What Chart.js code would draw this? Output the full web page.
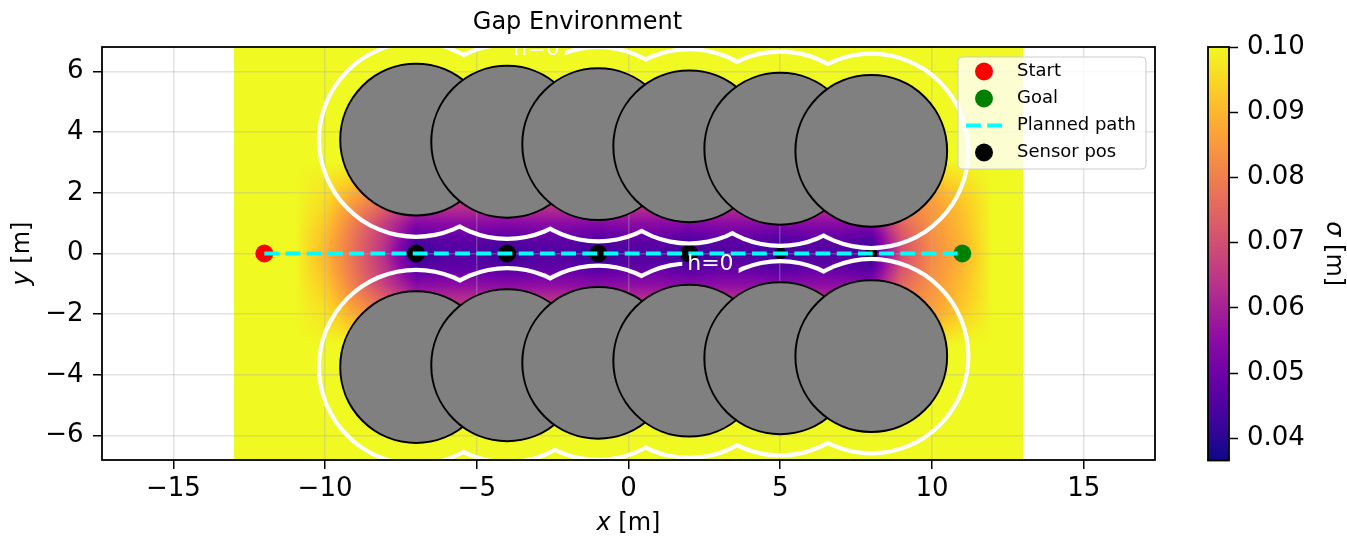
<!DOCTYPE html>
<html>
<head>
<meta charset="utf-8">
<title>Gap Environment</title>
<script src="https://cdn.jsdelivr.net/npm/chart.js@4.4.1/dist/chart.umd.min.js"></script>
<style>
  html, body { margin: 0; padding: 0; background: #fff; }
  #wrap { position: relative; width: 1347px; height: 538px; }
  #wrap canvas { position: absolute; left: 0; top: 0; }
</style>
</head>
<body>
<div id="wrap">
  <canvas id="main" width="1347" height="538"></canvas>
  <canvas id="cbar" width="1347" height="538"></canvas>
</div>
<script>
// --- data ---
const startPos = [-12, 0];
const goalPos = [11, 0];
const pathX = [-12, 11];
const pathY = [0, 0];
const sensorX = [-7, -4, -1, 2, 5, 8];
const sensorY = [0, 0, 0, 0, 0, 0];

// obstacles: top row then bottom row
const obstacleX = [-7, -4, -1, 2, 5, 8, -7, -4, -1, 2, 5, 8];
const obstacleY = [3.75, 3.68, 3.60, 3.53, 3.45, 3.38, -3.74, -3.68, -3.60, -3.53, -3.45, -3.38];
const obstacleR = 2.5;
const safetyMargin = 0.7;   // h = 0 level

// sigma field, sampled on a grid (columns = sigmaX, rows = sigmaY), outside |y|>3 it is 0.10
const sigmaX = [-13, -12, -11, -10, -9, -8, -7, -6, -5, -4, -3, -2, -1, 0, 1, 2, 3, 4, 5, 6, 7, 8, 9, 10, 11, 12, 13];
const sigmaY = [3, 2.5, 2, 1.5, 1, 0.5, 0, -0.5, -1, -1.5, -2, -2.5, -3];
const sigmaRow30 = [0.100,0.100,0.100,0.100,0.100,0.093,0.090,0.090,0.090,0.090,0.090,0.090,0.090,0.090,0.090,0.090,0.090,0.090,0.090,0.090,0.090,0.090,0.092,0.099,0.100,0.100,0.100];
const sigmaRow25 = [0.100,0.100,0.100,0.098,0.094,0.086,0.080,0.080,0.080,0.080,0.080,0.080,0.080,0.080,0.080,0.080,0.080,0.080,0.080,0.080,0.080,0.080,0.087,0.093,0.097,0.100,0.100];
const sigmaRow20 = [0.100,0.100,0.100,0.097,0.088,0.079,0.070,0.070,0.070,0.070,0.070,0.070,0.070,0.070,0.070,0.070,0.070,0.070,0.070,0.070,0.070,0.070,0.084,0.087,0.094,0.100,0.100];
const sigmaRow15 = [0.100,0.100,0.100,0.095,0.083,0.073,0.062,0.063,0.063,0.062,0.063,0.063,0.062,0.063,0.063,0.062,0.063,0.063,0.062,0.063,0.063,0.062,0.080,0.085,0.092,0.100,0.100];
const sigmaRow10 = [0.100,0.100,0.100,0.093,0.079,0.066,0.054,0.055,0.055,0.054,0.055,0.055,0.054,0.055,0.055,0.054,0.055,0.055,0.054,0.055,0.055,0.054,0.075,0.084,0.091,0.100,0.100];
const sigmaRow05 = [0.100,0.100,0.100,0.091,0.077,0.064,0.046,0.048,0.048,0.046,0.048,0.048,0.046,0.048,0.048,0.046,0.048,0.048,0.046,0.048,0.048,0.046,0.071,0.083,0.090,0.100,0.100];
const sigmaRow00 = [0.100,0.100,0.100,0.090,0.076,0.062,0.041,0.045,0.045,0.041,0.045,0.045,0.041,0.045,0.045,0.041,0.045,0.045,0.041,0.045,0.045,0.041,0.070,0.082,0.089,0.100,0.100];
const sigmaRows = [sigmaRow30, sigmaRow25, sigmaRow20, sigmaRow15, sigmaRow10, sigmaRow05, sigmaRow00,
                   sigmaRow05, sigmaRow10, sigmaRow15, sigmaRow20, sigmaRow25, sigmaRow30];
const fieldYRange = [-6.8, 6.8];
const sigmaMin = 0.0366;
const sigmaMax = 0.10;

const xTicks = [-15, -10, -5, 0, 5, 10, 15];
const yTicks = [-6, -4, -2, 0, 2, 4, 6];
const cbTicks = [0.04, 0.05, 0.06, 0.07, 0.08, 0.09, 0.10];

// --- helpers ---
const FONT = 'DejaVu Sans';
Chart.defaults.font.family = FONT;

const plasmaStops = ['#0d0887', '#41049d', '#6a00a8', '#8f0da4', '#b12a90', '#cc4778',
                     '#e16462', '#f2844b', '#fca636', '#fcce25', '#f0f921'];
const plasmaRgb = plasmaStops.map(h => [1, 3, 5].map(k => parseInt(h.slice(k, k + 2), 16)));

function plasma(t) {
    t = Math.max(0, Math.min(1, t));
    const f = t * (plasmaRgb.length - 1);
    const i = Math.min(Math.floor(f), plasmaRgb.length - 2);
    const u = f - i;
    const a = plasmaRgb[i], b = plasmaRgb[i + 1];
    return [a[0] + (b[0] - a[0]) * u, a[1] + (b[1] - a[1]) * u, a[2] + (b[2] - a[2]) * u];
}

function sampleSigma(vx, vy) {
    const nX = sigmaX.length, nY = sigmaY.length;
    if (vy > sigmaY[0] || vy < sigmaY[nY - 1]) return sigmaMax;
    let fx = (vx - sigmaX[0]) / (sigmaX[1] - sigmaX[0]);
    let fy = (sigmaY[0] - vy) / (sigmaY[0] - sigmaY[1]);
    fx = Math.max(0, Math.min(nX - 1, fx));
    fy = Math.max(0, Math.min(nY - 1, fy));
    const i = Math.min(Math.floor(fx), nX - 2), j = Math.min(Math.floor(fy), nY - 2);
    const u = fx - i, v = fy - j, g = sigmaRows;
    return (1 - u) * (1 - v) * g[j][i] + u * (1 - v) * g[j][i + 1] +
           (1 - u) * v * g[j + 1][i] + u * v * g[j + 1][i + 1];
}

const minus = v => (v < 0 ? '\u2212' + Math.abs(v) : String(v));

function drawMixed(ctx, parts, cx, cy, rot, size) {
    ctx.save();
    ctx.translate(cx, cy);
    ctx.rotate(rot);
    ctx.textBaseline = 'middle';
    ctx.textAlign = 'left';
    ctx.fillStyle = '#000';
    const fonts = parts.map(p => (p.italic ? 'italic ' : '') + size + 'px "' + FONT + '"');
    const widths = parts.map((p, i) => { ctx.font = fonts[i]; return ctx.measureText(p.text).width; });
    let xx = -widths.reduce((a, b) => a + b, 0) / 2;
    parts.forEach((p, i) => { ctx.font = fonts[i]; ctx.fillText(p.text, xx, 0); xx += widths[i]; });
    ctx.restore();
}

// --- plugins for the main axes ---
const fieldPlugin = {
    id: 'field',
    beforeDraw(chart) {
        const { ctx, scales: { x, y } } = chart;
        const left = Math.round(x.getPixelForValue(sigmaX[0]));
        const right = Math.round(x.getPixelForValue(sigmaX[sigmaX.length - 1]));
        const top = Math.round(y.getPixelForValue(fieldYRange[1]));
        const bottom = Math.round(y.getPixelForValue(fieldYRange[0]));
        const w = right - left, h = bottom - top;
        const img = ctx.createImageData(w, h);
        for (let j = 0; j < h; j++) {
            const vy = y.getValueForPixel(top + j + 0.5);
            for (let i = 0; i < w; i++) {
                const vx = x.getValueForPixel(left + i + 0.5);
                const c = plasma((sampleSigma(vx, vy) - sigmaMin) / (sigmaMax - sigmaMin));
                const k = (j * w + i) * 4;
                img.data[k] = c[0]; img.data[k + 1] = c[1]; img.data[k + 2] = c[2]; img.data[k + 3] = 255;
            }
        }
        ctx.putImageData(img, left, top);
    },
    beforeDatasetsDraw(chart) {
        const { ctx, chartArea: a, scales: { x, y } } = chart;
        const kx = Math.abs(x.getPixelForValue(1) - x.getPixelForValue(0));
        const ky = Math.abs(y.getPixelForValue(1) - y.getPixelForValue(0));
        ctx.save();
        ctx.beginPath();
        ctx.rect(a.left, a.top, a.right - a.left, a.bottom - a.top);
        ctx.clip();
        ctx.fillStyle = '#808080';
        ctx.strokeStyle = '#000';
        ctx.lineWidth = 2;
        obstacleX.forEach((cx, i) => {
            ctx.beginPath();
            ctx.ellipse(x.getPixelForValue(cx), y.getPixelForValue(obstacleY[i]), obstacleR * kx, obstacleR * ky, 0, 0, 2 * Math.PI);
            ctx.fill();
            ctx.stroke();
        });
        ctx.restore();
    },
    afterDatasetsDraw(chart) {
        // h = 0 contour: boundary of the union of inflated obstacles
        const { ctx, chartArea: a, scales: { x, y } } = chart;
        const kx = Math.abs(x.getPixelForValue(1) - x.getPixelForValue(0));
        const ky = Math.abs(y.getPixelForValue(1) - y.getPixelForValue(0));
        const R = obstacleR + safetyMargin, half = 2.1;
        const off = document.createElement('canvas');
        off.width = chart.width; off.height = chart.height;
        const o = off.getContext('2d');
        const disc = (d) => obstacleX.forEach((cx, i) => {
            o.beginPath();
            o.ellipse(x.getPixelForValue(cx), y.getPixelForValue(obstacleY[i]), R * kx + d, R * ky + d, 0, 0, 2 * Math.PI);
            o.fill();
        });
        o.fillStyle = '#fff';
        disc(half);
        o.globalCompositeOperation = 'destination-out';
        disc(-half);
        const labels = [[-3.03, 6.74], [2.70, -0.34]];
        const labelFont = '22px "' + FONT + '"';
        o.font = labelFont;
        const tw = o.measureText('h=0').width;
        labels.forEach(([lx, ly]) => {
            const px = x.getPixelForValue(lx), py = y.getPixelForValue(ly);
            o.fillRect(px - tw / 2 - 5, py - 13, tw + 10, 26);
        });
        o.globalCompositeOperation = 'source-over';

        ctx.save();
        ctx.beginPath();
        ctx.rect(a.left, a.top, a.right - a.left, a.bottom - a.top);
        ctx.clip();
        ctx.drawImage(off, 0, 0);
        ctx.fillStyle = '#fff';
        ctx.font = labelFont;
        ctx.textAlign = 'center';
        ctx.textBaseline = 'middle';
        labels.forEach(([lx, ly]) => ctx.fillText('h=0', x.getPixelForValue(lx), y.getPixelForValue(ly)));
        ctx.restore();
    },
    afterDraw(chart) {
        const { ctx, chartArea: a } = chart;
        ctx.save();
        // frame
        ctx.strokeStyle = '#000';
        ctx.lineWidth = 1.8;
        ctx.strokeRect(a.left, a.top, a.right - a.left, a.bottom - a.top);

        // axis labels
        drawMixed(ctx, [{ text: 'x', italic: true }, { text: ' [m]' }], (a.left + a.right) / 2, 524, 0, 24);
        drawMixed(ctx, [{ text: 'y', italic: true }, { text: ' [m]' }], 23, (a.top + a.bottom) / 2, -Math.PI / 2, 24);

        // legend
        const bx = 958, by = 57, bw = 188, bh = 112;
        ctx.beginPath();
        ctx.roundRect(bx, by, bw, bh, 4);
        ctx.fillStyle = 'rgba(255,255,255,0.8)';
        ctx.fill();
        ctx.strokeStyle = '#cccccc';
        ctx.lineWidth = 1;
        ctx.stroke();
        ctx.font = '18px "' + FONT + '"';
        ctx.textBaseline = 'middle';
        ctx.textAlign = 'left';
        chart.data.datasets.forEach((ds, i) => {
            const ry = 71.5 + i * 27;
            if (ds.showLine) {
                ctx.strokeStyle = ds.borderColor;
                ctx.lineWidth = ds.borderWidth;
                ctx.setLineDash(ds.borderDash);
                ctx.beginPath();
                ctx.moveTo(966, ry);
                ctx.lineTo(1002, ry);
                ctx.stroke();
                ctx.setLineDash([]);
            } else {
                ctx.fillStyle = ds.backgroundColor;
                ctx.beginPath();
                ctx.arc(984, ry, 9, 0, 2 * Math.PI);
                ctx.fill();
            }
            ctx.fillStyle = '#000';
            ctx.fillText(ds.label, 1017, ry);
        });
        ctx.restore();
    }
};

const tickFont = { family: FONT, size: 26 };
const gridColor = 'rgba(176,176,176,0.35)';

new Chart(document.getElementById('main'), {
    type: 'scatter',
    data: {
        datasets: [
            { label: 'Start', data: [{ x: startPos[0], y: startPos[1] }], backgroundColor: 'red', borderWidth: 0, pointRadius: 9, order: 1 },
            { label: 'Goal', data: [{ x: goalPos[0], y: goalPos[1] }], backgroundColor: 'green', borderWidth: 0, pointRadius: 9, order: 1 },
            { label: 'Planned path', data: pathX.map((v, i) => ({ x: v, y: pathY[i] })), showLine: true,
              borderColor: 'cyan', borderWidth: 4, borderDash: [14.8, 6.4], pointRadius: 0, order: 0 },
            { label: 'Sensor pos', data: sensorX.map((v, i) => ({ x: v, y: sensorY[i] })), backgroundColor: 'black',
              borderWidth: 0, pointRadius: [9, 9, 9, 9, 6, 6], order: 1 }
        ]
    },
    options: {
        responsive: false,
        animation: false,
        events: [],
        layout: { padding: { left: 0, right: 192, top: 0, bottom: 0 } },
        plugins: {
            legend: { display: false },
            tooltip: { enabled: false },
            title: {
                display: true, text: 'Gap Environment', color: '#000',
                font: { family: FONT, size: 24, weight: 'normal' },
                padding: { top: 8.6, bottom: 9.6 }
            }
        },
        scales: {
            x: {
                type: 'linear', min: -17.35, max: 17.35,
                afterBuildTicks: s => { s.ticks = xTicks.map(v => ({ value: v })); },
                afterFit: s => { s.height = 78; },
                ticks: { font: tickFont, color: '#000', padding: 5, maxRotation: 0, autoSkip: false, callback: minus },
                grid: { color: gridColor, lineWidth: 1.5, tickColor: '#000', tickLength: 9, tickWidth: 1.5 },
                border: { display: false }
            },
            y: {
                type: 'linear', min: -6.8, max: 6.8,
                afterBuildTicks: s => { s.ticks = yTicks.map(v => ({ value: v })); },
                afterFit: s => { s.width = 102; },
                ticks: { font: tickFont, color: '#000', padding: 9.5, autoSkip: false, callback: minus },
                grid: { color: gridColor, lineWidth: 1.5, tickColor: '#000', tickLength: 9, tickWidth: 1.5 },
                border: { display: false }
            }
        }
    },
    plugins: [fieldPlugin]
});

// --- colorbar ---
const colorbarPlugin = {
    id: 'colorbar',
    beforeDatasetsDraw(chart) {
        const { ctx, chartArea: a } = chart;
        const g = ctx.createLinearGradient(0, a.bottom, 0, a.top);
        plasmaStops.forEach((c, i) => g.addColorStop(i / (plasmaStops.length - 1), c));
        ctx.save();
        ctx.fillStyle = g;
        ctx.fillRect(a.left, a.top, a.right - a.left, a.bottom - a.top);
        ctx.restore();
    },
    afterDraw(chart) {
        const { ctx, chartArea: a } = chart;
        ctx.save();
        ctx.strokeStyle = '#000';
        ctx.lineWidth = 1.8;
        ctx.strokeRect(a.left, a.top, a.right - a.left, a.bottom - a.top);
        ctx.restore();
        drawMixed(ctx, [{ text: '\u03c3', italic: true }, { text: ' [m]' }], 1333, (a.top + a.bottom) / 2, Math.PI / 2, 24);
    }
};

new Chart(document.getElementById('cbar'), {
    type: 'scatter',
    data: { datasets: [] },
    options: {
        responsive: false,
        animation: false,
        events: [],
        layout: { padding: { left: 1208, right: 0, top: 47, bottom: 77.5 } },
        plugins: { legend: { display: false }, tooltip: { enabled: false }, title: { display: false } },
        scales: {
            x: { display: false, min: 0, max: 1 },
            y: {
                position: 'right', min: sigmaMin, max: sigmaMax,
                afterBuildTicks: s => { s.ticks = cbTicks.map(v => ({ value: v })); },
                afterFit: s => { s.width = 118; },
                ticks: { font: tickFont, color: '#000', padding: 9, callback: v => v.toFixed(2) },
                grid: { drawOnChartArea: false, tickColor: '#000', tickLength: 9, tickWidth: 1.5 },
                border: { display: false }
            }
        }
    },
    plugins: [colorbarPlugin]
});
</script>
</body>
</html>
